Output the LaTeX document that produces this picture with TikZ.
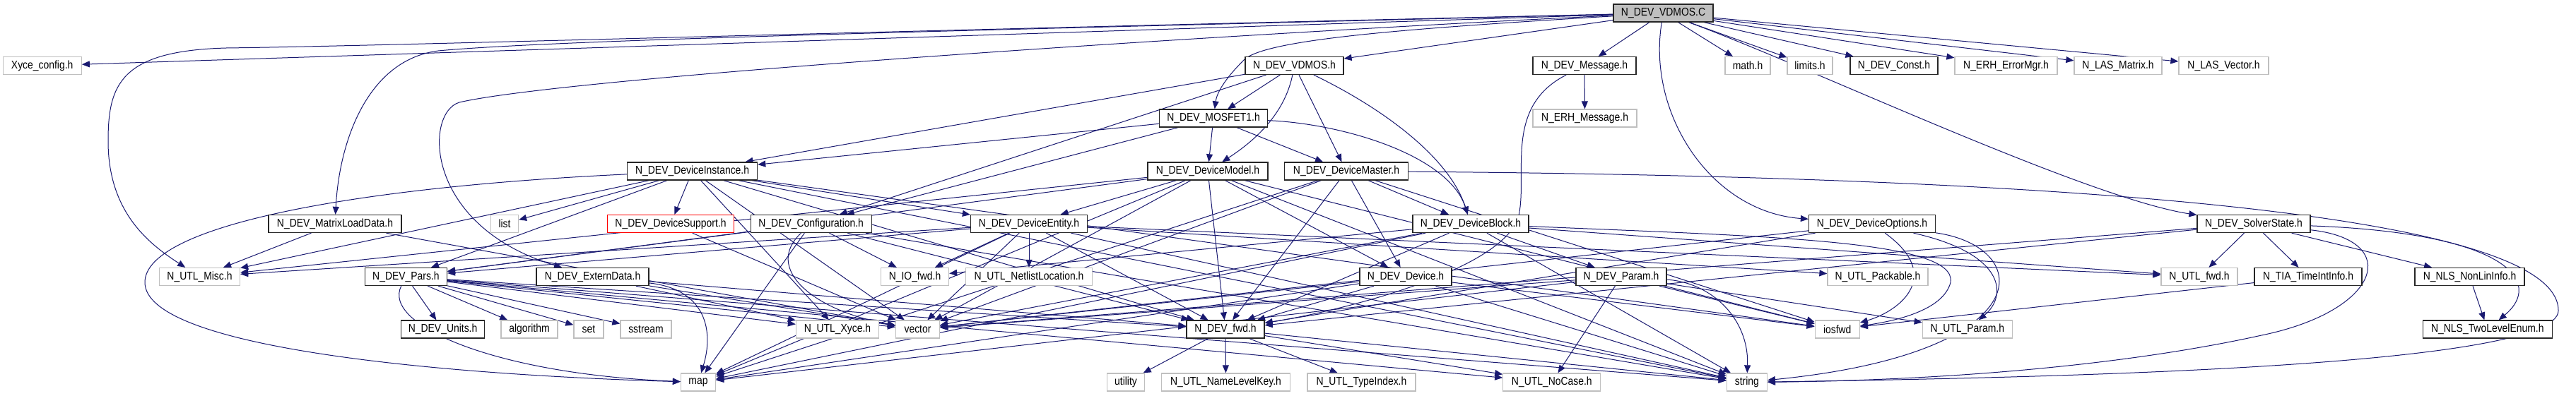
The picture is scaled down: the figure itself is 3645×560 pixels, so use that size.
\documentclass[tikz,border=0pt]{standalone}
\usepackage{fontspec}
\newfontfamily\dxfont{Liberation Sans}[FakeStretch=0.87]
\usetikzlibrary{arrows.meta,backgrounds}
\definecolor{edgecol}{RGB}{25,25,112}
\definecolor{graybd}{RGB}{191,191,191}
\tikzset{
 dxbox/.style={rectangle, minimum height=25pt, inner sep=0pt, font=\dxfont\fontsize{16}{18}\selectfont, fill=white, line width=1.3pt},
 doc/.style={dxbox, draw=black!85},
 undoc/.style={dxbox, draw=graybd},
 redbox/.style={dxbox, draw=red},
 rootbox/.style={dxbox, draw=black!85, fill=graybd},
 e/.style={draw=edgecol, line width=1pt, -{Triangle[length=11pt,width=9pt]}},
}
\begin{document}
\begin{tikzpicture}[x=1pt,y=-1pt]
\useasboundingbox (0,0) rectangle (3645,560);
% row 0
\node[rootbox, minimum width=141pt] (C) at (2353.5,18.5) {N\_DEV\_VDMOS.C};
% row 1
\node[undoc, minimum width=111pt] (xyce) at (59.7,93) {Xyce\_config.h};
\node[doc, minimum width=139pt] (vdmosh) at (1831.5,93) {N\_DEV\_VDMOS.h};
\node[doc, minimum width=146pt] (msg) at (2242,93) {N\_DEV\_Message.h};
\node[undoc, minimum width=64pt] (math) at (2473,93) {math.h};
\node[undoc, minimum width=64pt] (limits) at (2561,93) {limits.h};
\node[doc, minimum width=124pt] (const) at (2680,93) {N\_DEV\_Const.h};
\node[undoc, minimum width=145pt] (errmgr) at (2838.5,93) {N\_ERH\_ErrorMgr.h};
\node[undoc, minimum width=124pt] (lasmat) at (2997,93) {N\_LAS\_Matrix.h};
\node[undoc, minimum width=127pt] (lasvec) at (3146.5,93) {N\_LAS\_Vector.h};
% row 2
\node[doc, minimum width=153pt] (mosfet1) at (1717,167.5) {N\_DEV\_MOSFET1.h};
\node[undoc, minimum width=147pt] (erhmsg) at (2242.5,167.5) {N\_ERH\_Message.h};
% row 3
\node[doc, minimum width=184pt] (devinst) at (979.6,242.5) {N\_DEV\_DeviceInstance.h};
\node[doc, minimum width=170pt] (devmodel) at (1709,242.5) {N\_DEV\_DeviceModel.h};
\node[doc, minimum width=175pt] (devmaster) at (1905,242.5) {N\_DEV\_DeviceMaster.h};
% row 4
\node[doc, minimum width=188pt] (mld) at (474,317) {N\_DEV\_MatrixLoadData.h};
\node[undoc, minimum width=39pt] (list) at (714,317) {list};
\node[redbox, minimum width=179pt] (devsupport) at (949,317) {N\_DEV\_DeviceSupport.h};
\node[doc, minimum width=171pt] (config) at (1147.7,317) {N\_DEV\_Configuration.h};
\node[doc, minimum width=165pt] (deventity) at (1456,317) {N\_DEV\_DeviceEntity.h};
\node[doc, minimum width=164pt] (devblock) at (2081,317) {N\_DEV\_DeviceBlock.h};
\node[doc, minimum width=179pt] (devopt) at (2649,317) {N\_DEV\_DeviceOptions.h};
\node[doc, minimum width=160pt] (solver) at (3189,317) {N\_DEV\_SolverState.h};
% row 5
\node[undoc, minimum width=114pt] (misc) at (282.5,392) {N\_UTL\_Misc.h};
\node[doc, minimum width=116pt] (pars) at (574.4,392) {N\_DEV\_Pars.h};
\node[doc, minimum width=159pt] (ext) at (838.6,392) {N\_DEV\_ExternData.h};
\node[undoc, minimum width=96pt] (iofwd) at (1294.5,392) {N\_IO\_fwd.h};
\node[undoc, minimum width=179pt] (netlist) at (1456,392) {N\_UTL\_NetlistLocation.h};
\node[doc, minimum width=130pt] (device) at (1989,392) {N\_DEV\_Device.h};
\node[doc, minimum width=128pt] (param) at (2294,392) {N\_DEV\_Param.h};
\node[undoc, minimum width=142pt] (packable) at (2657,392) {N\_UTL\_Packable.h};
\node[undoc, minimum width=108pt] (utlfwd) at (3112,392) {N\_UTL\_fwd.h};
\node[doc, minimum width=152pt] (tia) at (3266,392) {N\_TIA\_TimeIntInfo.h};
\node[doc, minimum width=155pt] (nonlin) at (3494.5,392) {N\_NLS\_NonLinInfo.h};
% row 6
\node[doc, minimum width=118pt] (units) at (626.6,466.5) {N\_DEV\_Units.h};
\node[undoc, minimum width=80pt] (algorithm) at (749,466.5) {algorithm};
\node[undoc, minimum width=42pt] (set) at (833,466.5) {set};
\node[undoc, minimum width=72pt] (sstream) at (914,466.5) {sstream};
\node[undoc, minimum width=117pt] (utlxyce) at (1185,466.5) {N\_UTL\_Xyce.h};
\node[undoc, minimum width=62pt] (vector) at (1298.5,466.5) {vector};
\node[doc, minimum width=110pt] (devfwd) at (1734,466.5) {N\_DEV\_fwd.h};
\node[undoc, minimum width=63pt] (iosfwd) at (2599.7,466.5) {iosfwd};
\node[undoc, minimum width=127pt] (utlparam) at (2783.8,466.5) {N\_UTL\_Param.h};
\node[doc, minimum width=183pt] (twolevel) at (3519.8,466.5) {N\_NLS\_TwoLevelEnum.h};
% row 7
\node[undoc, minimum width=49pt] (map) at (988,541.5) {map};
\node[undoc, minimum width=53pt] (utility) at (1593,541.5) {utility};
\node[undoc, minimum width=182pt] (namelevel) at (1734.5,541.5) {N\_UTL\_NameLevelKey.h};
\node[undoc, minimum width=153pt] (typeindex) at (1926.5,541.5) {N\_UTL\_TypeIndex.h};
\node[undoc, minimum width=138pt] (nocase) at (2195.8,541.5) {N\_UTL\_NoCase.h};
\node[undoc, minimum width=57pt] (string) at (2471.8,541.5) {string};

\begin{pgfonlayer}{background}
\foreach \s/\t in {C/xyce, C/vdmosh, C/msg, C/math, C/limits, C/const, C/errmgr, C/lasmat, C/lasvec,
  vdmosh/mosfet1, vdmosh/devinst, vdmosh/devmaster, vdmosh/config,
  mosfet1/devinst, mosfet1/devmodel, mosfet1/devmaster, mosfet1/config,
  msg/erhmsg,
  devinst/misc, devinst/list, devinst/devsupport, devinst/deventity, devinst/pars, devinst/vector, devinst/devfwd, devinst/string, devinst/iosfwd, devinst/utlxyce,
  devmodel/misc, devmodel/pars, devmodel/deventity, devmodel/device, devmodel/devfwd, devmodel/vector, devmodel/map, devmodel/string, devmodel/iosfwd,
  devmaster/device, devmaster/devblock, devmaster/devfwd, devmaster/vector, devmaster/map, devmaster/iosfwd,
  mld/misc, mld/vector, devsupport/vector,
  config/pars, config/iofwd, config/map, config/string, config/devfwd,
  deventity/iofwd, deventity/netlist, deventity/devfwd, deventity/pars, deventity/packable, deventity/utlfwd, deventity/string, deventity/vector, deventity/map, deventity/misc,
  devblock/param, devblock/vector, devblock/devfwd, devblock/map, devblock/string, devblock/utlfwd, devblock/iofwd,
  device/devfwd, device/vector, device/map, device/string, device/iosfwd,
  param/nocase, param/vector, param/map, param/iosfwd, param/utlparam,
  pars/units, pars/algorithm, pars/set, pars/sstream, pars/string, pars/vector, pars/utlxyce, pars/devfwd, pars/nocase,
  ext/vector, ext/utlxyce, ext/devfwd,
  devopt/devfwd, devopt/vector,
  solver/utlfwd, solver/tia, solver/nonlin, solver/devfwd, solver/vector,
  tia/iosfwd, nonlin/twolevel,
  devfwd/utility, devfwd/namelevel, devfwd/typeindex, devfwd/nocase, devfwd/string}
  \draw[e] (\s) -- (\t);
% curved connectors
\draw[e] (C) .. controls (1200,45) and (550,65) .. (320,68) .. controls (170,72) and (153,120) .. (153,200) .. controls (153,300) and (210,345) .. (misc);
\draw[e] (C) .. controls (1500,40) and (800,55) .. (620,72) .. controls (520,85) and (480,200) .. (mld);
\draw[e] (C) .. controls (1700,50) and (800,110) .. (650,145) .. controls (600,160) and (600,320) .. (ext);
\draw[e] (C) .. controls (2000,40) and (1790,55) .. (1760,85) .. controls (1735,110) and (1722,130) .. (mosfet1);
\draw[e] (C) .. controls (2330,160) and (2420,300) .. (devopt);
\draw[e] (C) .. controls (2550,90) and (2950,280) .. (solver);
\draw[e] (vdmosh) .. controls (1820,150) and (1790,190) .. (devmodel);
\draw[e] (vdmosh) .. controls (1950,150) and (2050,220) .. (devblock);
\draw[e] (mosfet1) .. controls (1900,175) and (2050,220) .. (devblock);
\draw[e] (msg) .. controls (2130,150) and (2160,240) .. (2150,300) .. controls (2140,380) and (1900,440) .. (devfwd);
\draw[e] (devinst) .. controls (500,265) and (205,320) .. (205,400) .. controls (205,490) and (600,530) .. (map);
\draw[e] (devmaster) .. controls (2900,250) and (3620,300) .. (3620,440) .. controls (3620,520) and (2900,535) .. (string);
\draw[e] (config) .. controls (1080,380) and (1150,440) .. (vector);
\draw[e] (devblock) .. controls (2500,335) and (2770,340) .. (2760,400) .. controls (2750,440) and (2680,455) .. (iosfwd);
\draw[e] (param) .. controls (2420,400) and (2475,450) .. (string);
\draw[e] (pars) .. controls (540,460) and (700,530) .. (map);
\draw[e] (ext) .. controls (1000,410) and (1010,470) .. (map);
\draw[e] (devopt) .. controls (2840,360) and (2840,420) .. (utlparam);
\draw[e] (devopt) .. controls (2880,350) and (2890,500) .. (string);
\draw[e] (devopt) .. controls (2750,390) and (2690,440) .. (iosfwd);
\draw[e] (solver) .. controls (3550,330) and (3600,400) .. (twolevel);
\draw[e] (solver) .. controls (3400,340) and (3370,440) .. (3200,475) .. controls (2950,530) and (2650,540) .. (string);
\end{pgfonlayer}
\end{tikzpicture}
\end{document}
